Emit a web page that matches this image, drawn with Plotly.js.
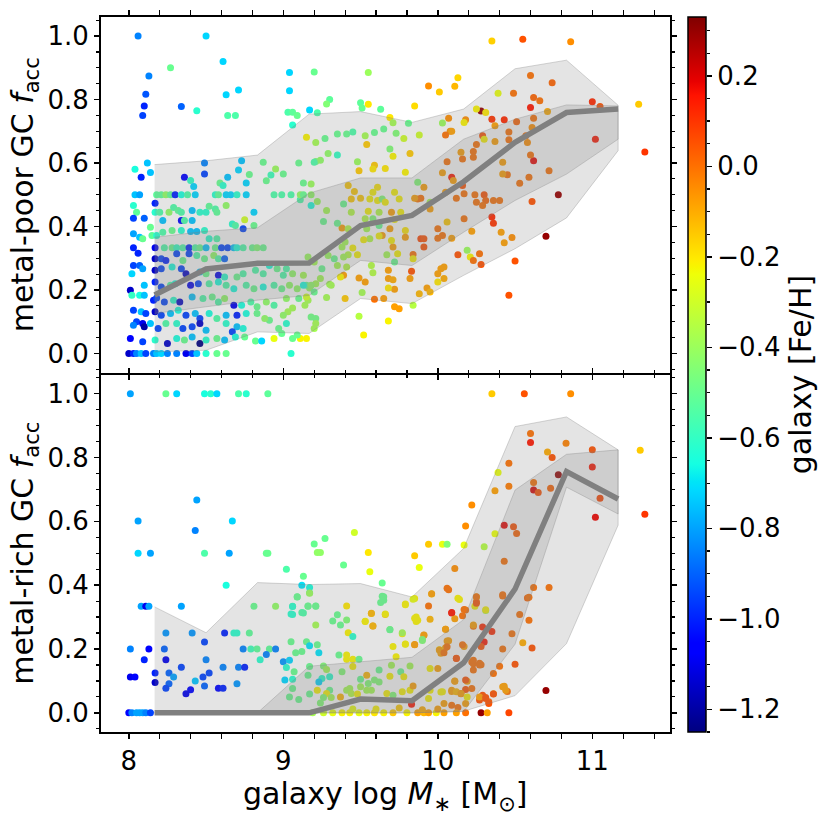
<!DOCTYPE html>
<html>
<head>
<meta charset="utf-8">
<script src="https://cdn.plot.ly/plotly-3.0.1.min.js"></script>
<style>body{margin:0;background:#fff}</style>
</head>
<body>
<div id="plot" style="width:831px;height:818px"></div>
<script>
// metal-poor GCs: galaxy log M*, accreted fraction, galaxy [Fe/H]
var poorLogM = [
  8.06,8.50,8.61,8.27,8.13,8.11,8.10,8.09,8.34,8.63,
  8.71,8.44,8.64,8.69,9.04,9.20,9.04,9.30,9.28,9.17,
  9.22,9.03,9.06,9.09,9.06,9.55,9.50,9.51,9.55,9.63,
  9.69,9.71,9.81,9.85,9.94,10.01,10.11,10.13,10.35,10.55,
  10.86,11.30,10.60,10.74,10.39,10.49,10.62,10.66,10.60,10.28,
  10.31,10.25,10.35,10.43,10.51,10.62,10.71,11.00,11.05,11.02,
  11.34,
  10.07,10.18,10.03,10.17,10.08,10.09,10.05,10.37,10.46,10.29,
  10.25,10.23,10.23,10.16,10.15,10.30,10.37,10.46,10.57,10.61,
  10.58,10.62,10.60,10.42,10.45,10.42,10.53,10.59,10.72,10.78,
  10.61,10.70,10.50,10.46,10.09,10.06,10.10,10.03,10.16,10.12,
  10.05,10.17,10.24,10.30,10.31,10.29,10.25,10.36,10.40,10.35,
  10.36,10.17,10.06,10.00,10.00,10.03,10.22,10.41,10.48,10.43,
  10.09,10.19,10.21,10.13,10.23,10.27,10.28,
  9.89,9.91,9.91,9.84,10.04,10.02,10.00,10.04,10.00,9.83,
  9.82,9.93,9.95,9.88,9.72,9.75,9.72,9.68,9.65,9.59,
  9.53,9.51,9.57,9.58,9.49,9.39,9.68,9.71,9.68,9.68,
  9.84,9.49,9.52,9.40,9.28,9.31,
  9.15,9.27,9.35,9.41,9.45,9.21,9.29,9.21,9.24,9.35,
  9.48,9.49,9.53,9.54,9.59,9.58,9.66,9.59,9.65,9.73,
  9.78,9.88,9.69,9.71,9.82,9.79,9.87,9.91,9.87,9.89,
  9.85,9.95,9.95,9.61,9.42,9.46,9.44,9.50,9.56,9.58,
  9.61,9.64,9.66,9.72,9.75,9.70,9.76,9.55,9.62,9.44,
  9.38,9.42,9.35,9.26,9.28,9.39,9.11,9.18,9.22,9.53,
  9.58,9.54,9.56,9.62,9.64,9.52,9.62,9.69,9.72,9.79,
  9.79,9.71,9.70,9.67,9.74,9.72,9.84,9.40,9.38,9.45,
  9.48,9.42,9.39,9.33,9.29,9.35,9.25,9.24,9.20,9.16,
  9.37,9.41,9.30,9.21,9.17,9.13,9.15,9.10,9.20,9.14,
  9.16,9.06,9.03,9.18,9.21,9.21,9.20,9.15,9.11,9.06,
  9.09,8.91,8.97,9.02,8.99,
  8.12,8.04,8.14,8.08,8.36,8.40,8.49,8.49,8.42,8.59,
  8.61,8.64,8.73,8.71,8.78,8.76,8.87,8.89,8.95,9.00,
  8.92,9.10,9.13,9.18,9.20,
  8.04,8.07,8.18,8.21,8.24,8.27,8.30,8.34,8.38,8.43,
  8.56,8.58,8.63,8.66,8.70,8.76,8.94,8.99,9.05,9.11,
  9.13,9.18,
  8.17,8.03,8.05,8.17,8.20,8.26,8.29,8.32,8.34,8.41,
  8.46,8.50,8.52,8.56,8.57,8.63,8.81,8.75,8.03,8.10,
  8.22,8.34,8.36,8.41,8.67,8.69,8.74,8.81,8.14,8.03,
  8.07,8.09,8.15,8.18,8.22,8.28,8.34,8.40,8.44,8.49,
  8.52,8.57,
  8.17,8.23,8.28,8.31,8.35,8.39,8.43,8.46,8.50,8.56,
  8.60,8.64,8.68,8.70,8.74,8.80,8.83,8.87,8.03,8.06,
  8.17,8.21,8.24,8.31,8.35,8.39,8.44,8.49,8.55,8.58,
  8.62,8.03,8.07,8.09,8.02,8.17,8.21,8.28,8.34,8.37,
  8.46,8.50,8.58,8.62,8.70,8.74,8.82,8.87,8.91,8.96,
  9.02,9.06,9.00,
  8.01,8.10,8.17,8.21,8.27,8.30,8.40,8.45,8.52,8.58,
  8.63,8.68,8.76,8.81,8.87,8.94,8.99,9.04,9.09,9.13,
  9.18,
  8.02,8.07,8.10,8.16,8.18,8.23,8.29,8.33,8.41,8.48,
  8.54,8.58,8.62,8.68,8.73,8.79,8.83,8.89,8.94,9.02,
  9.15,
  8.03,8.08,8.11,8.17,8.21,8.27,8.32,8.37,8.43,8.46,
  8.52,8.57,8.63,8.70,8.76,8.83,8.88,9.00,
  8.05,8.09,8.03,8.10,8.14,8.19,8.24,8.31,8.35,8.41,
  8.46,8.50,8.63,8.70,8.67,8.74,
  8.01,8.09,8.17,8.25,8.31,8.36,8.41,8.46,8.50,8.57,
  8.62,8.69,8.75,8.82,8.86,8.94,
  8.00,8.03,8.05,8.08,8.11,8.16,8.18,8.21,8.25,8.31,
  8.37,8.41,8.44,8.50,8.57,8.63,9.05
];
var poorFacc = [
  1.00,1.00,0.92,0.90,0.874,0.817,0.78,0.75,0.778,0.815,
  0.83,0.765,0.75,0.75,0.885,0.887,0.828,0.80,0.786,0.767,
  0.758,0.76,0.76,0.75,0.72,0.885,0.79,0.773,0.785,0.769,
  0.743,0.727,0.725,0.78,0.843,0.824,0.842,0.869,0.984,0.99,
  0.982,0.785,0.876,0.853,0.82,0.82,0.806,0.796,0.775,0.764,
  0.759,0.77,0.738,0.736,0.73,0.741,0.762,0.793,0.778,0.675,
  0.635,
  0.741,0.736,0.726,0.728,0.70,0.70,0.688,0.717,0.698,0.686,
  0.658,0.636,0.618,0.613,0.634,0.675,0.668,0.673,0.686,0.712,
  0.665,0.607,0.625,0.602,0.563,0.565,0.536,0.555,0.576,0.50,
  0.479,0.369,0.291,0.183,0.555,0.604,0.545,0.569,0.529,0.489,
  0.508,0.503,0.50,0.50,0.482,0.466,0.476,0.482,0.482,0.43,
  0.41,0.424,0.414,0.393,0.363,0.372,0.385,0.382,0.365,0.349,
  0.363,0.325,0.304,0.311,0.293,0.314,0.28,
  0.361,0.361,0.335,0.312,0.272,0.267,0.251,0.236,0.225,0.259,
  0.236,0.206,0.194,0.188,0.202,0.141,0.147,0.206,0.173,0.171,
  0.225,0.192,0.277,0.254,0.238,0.246,0.236,0.232,0.262,0.102,
  0.152,0.117,0.058,0.173,0.176,0.215,
  0.681,0.677,0.691,0.691,0.698,0.665,0.630,0.605,0.609,0.625,
  0.604,0.576,0.686,0.658,0.593,0.581,0.583,0.696,0.707,0.694,
  0.677,0.688,0.644,0.621,0.630,0.571,0.539,0.524,0.487,0.489,
  0.489,0.476,0.455,0.524,0.529,0.51,0.487,0.489,0.487,0.508,
  0.482,0.487,0.476,0.508,0.487,0.445,0.445,0.448,0.445,0.445,
  0.395,0.393,0.41,0.416,0.45,0.471,0.484,0.466,0.479,0.424,
  0.424,0.393,0.361,0.403,0.372,0.358,0.37,0.393,0.422,0.387,
  0.366,0.335,0.356,0.311,0.314,0.288,0.298,0.351,0.335,0.332,
  0.311,0.311,0.304,0.298,0.309,0.277,0.267,0.236,0.288,0.304,
  0.241,0.272,0.218,0.22,0.206,0.246,0.215,0.173,0.194,0.152,
  0.168,0.143,0.131,0.115,0.11,0.094,0.079,0.047,0.047,0.047,
  0.058,0.105,0.079,0.094,0.063,
  0.60,0.58,0.57,0.555,0.555,0.545,0.565,0.60,0.526,0.537,
  0.529,0.555,0.607,0.578,0.564,0.537,0.602,0.544,0.581,0.565,
  0.562,0.60,0.537,0.534,0.602,
  0.5,0.5,0.5,0.5,0.5,0.5,0.5,0.5,0.5,0.5,
  0.5,0.5,0.5,0.5,0.5,0.5,0.5,0.5,0.5,0.5,
  0.5,0.5,
  0.473,0.466,0.445,0.445,0.445,0.445,0.46,0.45,0.445,0.45,
  0.445,0.445,0.464,0.455,0.445,0.466,0.445,0.421,0.426,0.426,
  0.419,0.419,0.419,0.419,0.408,0.403,0.393,0.403,0.398,0.377,
  0.366,0.361,0.372,0.372,0.382,0.387,0.387,0.384,0.384,0.387,
  0.361,0.361,
  0.333,0.333,0.333,0.333,0.333,0.333,0.333,0.333,0.333,0.333,
  0.333,0.333,0.333,0.333,0.333,0.333,0.333,0.333,0.333,0.316,
  0.298,0.298,0.293,0.314,0.293,0.314,0.309,0.298,0.309,0.298,
  0.298,0.277,0.277,0.267,0.251,0.262,0.267,0.272,0.267,0.251,
  0.257,0.251,0.246,0.241,0.241,0.251,0.262,0.251,0.277,0.267,
  0.267,0.251,0.246,
  0.199,0.215,0.225,0.209,0.215,0.22,0.215,0.22,0.22,0.225,
  0.215,0.204,0.215,0.204,0.209,0.215,0.204,0.215,0.204,0.215,
  0.215,
  0.183,0.183,0.183,0.168,0.175,0.162,0.168,0.162,0.178,0.173,
  0.178,0.162,0.173,0.152,0.152,0.162,0.147,0.162,0.152,0.173,
  0.178,
  0.136,0.131,0.126,0.131,0.12,0.126,0.136,0.12,0.126,0.11,
  0.126,0.11,0.12,0.12,0.126,0.126,0.11,0.12,
  0.10,0.094,0.089,0.084,0.094,0.079,0.094,0.094,0.079,0.084,
  0.094,0.073,0.094,0.084,0.068,0.079,
  0.047,0.037,0.042,0.031,0.047,0.042,0.052,0.031,0.042,0.047,
  0.042,0.052,0.052,0.039,0.039,0.047,
  0,0,0,0,0,0,0,0,0,0,
  0,0,0,0,0,0,0
];
var poorFeH = [
  -0.85,-0.72,-0.72,-0.50,-0.85,-0.92,-1.00,-0.95,-0.90,-0.72,
  -0.72,-0.62,-0.55,-0.55,-0.72,-0.50,-0.72,-0.52,-0.45,-0.72,
  -0.55,-0.55,-0.52,-0.50,-0.62,-0.40,-0.52,-0.50,-0.20,-0.52,
  -0.20,-0.38,-0.50,-0.18,-0.05,-0.15,-0.12,-0.17,-0.16,0.05,
  -0.05,-0.15,0.00,0.02,-0.25,0.00,0.02,0.00,0.15,0.30,
  -0.20,-0.22,0.10,0.12,0.02,0.00,-0.10,0.12,0.05,0.15,
  0.10,
  -0.05,-0.05,-0.40,-0.22,-0.05,-0.08,0.00,-0.08,0.00,0.05,
  0.00,0.00,0.00,0.00,-0.08,-0.22,-0.08,0.00,0.00,-0.05,
  -0.05,0.18,0.00,-0.08,0.00,-0.08,0.00,0.00,0.00,0.30,
  0.05,0.30,0.05,0.05,0.15,0.00,-0.08,-0.08,0.05,0.00,
  -0.08,0.00,0.00,0.05,0.02,0.00,0.00,0.00,0.00,0.12,
  0.10,0.00,-0.15,0.00,0.00,0.00,-0.08,-0.08,-0.05,-0.08,
  -0.08,-0.40,-0.22,0.05,0.00,0.00,0.05,
  0.07,0.05,0.05,0.00,-0.08,-0.08,-0.08,-0.10,-0.20,0.05,
  -0.08,-0.08,-0.12,-0.12,-0.08,-0.08,-0.08,-0.20,-0.08,0.00,
  -0.08,-0.38,-0.35,-0.35,-0.08,-0.08,-0.08,-0.10,-0.08,-0.22,
  -0.35,-0.35,-0.22,-0.15,-0.38,-0.38,
  -0.22,-0.50,-0.50,-0.50,-0.55,-0.38,-0.42,-0.45,-0.42,-0.60,
  -0.40,-0.15,-0.38,-0.15,-0.15,-0.20,-0.20,-0.50,-0.50,-0.45,
  -0.30,-0.30,-0.45,-0.22,-0.15,-0.22,-0.45,-0.08,0.00,0.00,
  -0.08,-0.38,-0.08,-0.20,-0.15,-0.15,-0.15,-0.15,-0.22,-0.22,
  -0.22,-0.45,-0.22,-0.22,-0.22,-0.08,-0.22,-0.22,-0.35,-0.35,
  -0.08,-0.35,-0.50,-0.50,-0.38,-0.50,-0.55,-0.65,-0.40,-0.35,
  -0.45,-0.38,-0.35,-0.50,-0.08,-0.22,-0.22,-0.08,-0.22,-0.20,
  -0.08,-0.08,-0.22,-0.38,-0.22,-0.50,-0.22,-0.38,-0.38,-0.22,
  -0.22,-0.35,-0.38,-0.50,-0.40,-0.38,-0.50,-0.38,-0.38,-0.40,
  -0.22,-0.35,-0.38,-0.38,-0.40,-0.38,-0.50,-0.50,-0.50,-0.38,
  -0.38,-0.38,-0.38,-0.48,-0.48,-0.38,-0.38,-0.22,-0.22,-0.50,
  -0.50,-0.50,-0.50,-0.62,-0.50,
  -0.75,-0.65,-0.75,-1.00,-1.05,-0.60,-0.95,-0.85,-0.72,-0.50,
  -0.62,-0.75,-0.75,-0.72,-0.50,-0.72,-0.50,-0.50,-0.40,-0.50,
  -0.58,-0.50,-0.50,-0.40,-0.55,
  -0.75,-0.80,-0.52,-0.52,-0.42,-0.52,-1.00,-0.65,-0.55,-0.72,
  -0.62,-0.52,-0.72,-0.72,-0.62,-0.72,-0.55,-0.55,-0.55,-0.42,
  -0.50,-0.42,
  -1.00,-0.62,-0.52,-0.62,-0.55,-0.42,-0.55,-0.52,-0.55,-0.75,
  -0.62,-0.62,-0.52,-0.55,-0.52,-0.42,-0.72,-0.30,-0.95,-0.90,
  -0.75,-1.05,-0.55,-0.75,-0.62,-0.55,-0.95,-0.50,-0.50,-0.80,
  -0.75,-0.50,-0.52,-0.62,-0.55,-0.50,-0.62,-0.75,-0.75,-0.62,
  -0.62,-0.55,
  -1.10,-0.55,-0.50,-0.60,-0.55,-1.00,-0.55,-0.50,-0.75,-0.50,
  -0.95,-0.95,-0.75,-0.65,-0.55,-0.50,-0.45,-0.50,-1.00,-1.00,
  -1.15,-0.95,-1.00,-0.95,-0.50,-0.95,-0.55,-0.50,-0.42,-0.55,
  -0.90,-0.95,-0.90,-0.80,-0.72,-1.15,-0.95,-0.65,-0.95,-1.15,
  -0.75,-0.50,-1.10,-0.62,-0.50,-0.55,-0.55,-0.55,-0.65,-0.50,
  -0.55,-0.42,-0.55,
  -1.15,-0.75,-1.00,-0.95,-0.55,-0.65,-1.10,-0.95,-0.55,-0.65,
  -0.55,-0.65,-0.55,-0.50,-0.65,-0.55,-0.50,-0.42,-0.42,-0.65,
  -0.42,
  -0.60,-0.65,-0.75,-1.00,-0.95,-0.95,-0.62,-1.15,-0.75,-0.55,
  -0.50,-0.55,-0.42,-1.10,-0.65,-0.55,-0.50,-0.42,-0.55,-0.42,
  -0.30,
  -0.95,-0.75,-0.95,-1.15,-0.95,-0.75,-0.65,-0.95,-0.75,-0.95,
  -0.65,-0.55,-0.75,-1.00,-0.65,-0.50,-0.42,-0.42,
  -0.95,-1.10,-0.85,-1.20,-0.75,-0.95,-0.55,-0.62,-0.95,-0.95,
  -1.15,-0.75,-0.62,-0.75,-0.95,-0.65,
  -1.05,-0.95,-0.62,-1.15,-0.65,-0.50,-0.75,-1.25,-0.62,-0.50,
  -0.75,-0.65,-0.50,-0.50,-0.72,-0.25,
  -1.15,-1.00,-0.85,-0.75,-0.95,-0.85,-0.75,-0.72,-0.85,-0.85,
  -1.10,-0.95,-0.75,-0.62,-0.50,-0.50,-0.62
];

// metal-rich GCs
var richLogM = [
  8.01,8.24,8.31,8.49,8.53,8.57,8.71,8.76,8.90,10.35,10.56,10.86,
  11.31,10.60,10.60,10.83,10.71,10.74,11.00,11.00,11.05,11.02,
  11.34,10.46,10.39,10.37,10.46,10.78,10.62,10.62,10.65,10.73,
  10.22,10.18,10.43,10.49,10.51,10.37,9.94,10.03,10.06,10.17,
  10.30,10.43,10.11,9.85,9.88,10.62,10.72,10.42,10.58,10.53,
  10.59,10.48,10.55,10.61,10.40,10.50,10.43,10.45,10.70,10.46,
  10.28,10.32,
  10.06,10.07,10.14,9.96,10.25,10.25,10.24,10.31,10.09,10.17,
  10.11,10.05,10.23,10.29,10.35,10.30,10.28,10.17,10.06,10.05,
  10.02,10.01,10.12,10.22,10.23,10.28,10.36,10.19,10.11,10.18,
  10.15,10.09,10.02,10.29,10.31,10.33,10.36,10.27,
  9.85,9.79,9.86,9.87,9.91,9.90,9.85,9.79,9.77,9.71,
  9.69,9.64,9.65,9.64,9.57,9.58,9.53,9.66,9.55,9.56,
  9.46,9.39,9.20,9.27,9.22,9.24,9.13,9.02,9.12,9.17,
  9.17,9.09,9.06,9.16,9.21,9.06,9.13,8.81,8.95,8.63,
  8.89,8.90,8.49,8.65,8.06,8.14,8.06,8.67,8.44,8.43,
  8.08,8.11,8.13,8.34,8.24,8.41,8.62,8.68,8.70,8.78,
  8.49,8.01,8.13,8.23,8.74,8.79,8.83,8.91,8.95,8.10,
  8.24,8.50,8.85,8.89,8.34,8.61,8.71,8.75,8.01,8.04,
  8.17,8.26,8.29,8.52,8.48,8.43,8.17,8.26,8.24,8.49,
  8.58,8.61,8.70,8.40,8.37,8.00,8.02,8.05,8.07,8.09,
  8.11,8.14,
  9.09,9.17,9.06,9.16,9.21,9.05,9.12,9.41,9.35,9.32,
  9.37,9.41,9.21,9.65,9.63,9.57,9.53,9.58,9.66,9.69,
  9.42,9.45,9.79,9.84,9.85,9.86,9.77,9.79,9.85,9.96,
  9.94,10.13,10.25,10.09,10.18,10.16,9.95,9.91,9.90,10.05,
  10.07,10.06,10.01,10.04,10.16,10.12,9.73,9.05,9.15,9.22,
  9.17,9.23,9.08,9.12,9.00,9.04,9.02,9.07,9.17,9.26,
  9.28,9.36,9.41,9.41,9.45,9.49,9.45,9.38,9.62,9.54,
  9.70,9.76,9.78,9.82,9.69,9.95,10.00,10.11,10.18,10.23,
  10.27,10.23,9.01,9.06,9.06,9.16,9.25,9.23,9.30,9.30,
  9.50,9.55,9.59,9.62,9.50,9.54,9.57,9.41,9.43,9.44,
  9.37,9.48,9.28,9.26,9.31,9.22,9.17,9.04,9.10,9.24,
  9.67,9.71,9.82,9.77,9.84,9.83,9.95,9.94,10.03,10.09,
  10.12,10.15,10.04,10.09,10.13,10.18,10.19,10.22,10.27,10.31,
  10.33,10.36,10.42,10.44,
  9.19,9.26,9.32,9.38,9.43,9.49,9.54,9.59,9.65,9.71,
  9.80,9.87,9.91,9.94,9.99,10.04,10.12,10.18,9.60,9.75,
  9.90,10.00,9.45,10.42,10.59,10.42,10.23,10.27,10.25,10.31
];
var richFacc = [
  1.0,1.0,1.0,1.0,1.0,1.0,1.0,1.0,1.0,1.0,1.0,1.0,
  0.823,0.875,0.847,0.845,0.817,0.80,0.824,0.77,0.672,0.613,
  0.622,0.782,0.753,0.696,0.71,0.746,0.722,0.698,0.69,0.704,
  0.651,0.585,0.588,0.583,0.562,0.561,0.528,0.528,0.528,0.526,
  0.52,0.475,0.452,0.492,0.455,0.393,0.393,0.366,0.36,0.308,
  0.29,0.248,0.22,0.203,0.146,0.152,0.083,0.067,0.07,0.0,
  0.0,0.0,
  0.39,0.386,0.355,0.372,0.363,0.348,0.334,0.321,0.313,0.324,
  0.295,0.262,0.271,0.269,0.255,0.222,0.208,0.208,0.225,0.204,
  0.187,0.198,0.17,0.159,0.154,0.151,0.123,0.099,0.099,0.073,
  0.06,0.067,0.065,0.055,0.045,0.035,0.06,0.04,
  0.358,0.339,0.30,0.29,0.243,0.227,0.214,0.215,0.248,0.208,
  0.261,0.365,0.353,0.407,0.311,0.272,0.287,0.308,0.502,0.442,
  0.565,0.463,0.529,0.546,0.502,0.502,0.428,0.45,0.40,0.393,
  0.376,0.363,0.334,0.334,0.334,0.308,0.313,0.334,0.334,0.40,
  0.50,0.50,0.50,0.50,0.50,0.50,0.601,0.601,0.667,0.571,
  0.334,0.334,0.334,0.334,0.25,0.25,0.25,0.25,0.25,0.25,
  0.222,0.20,0.20,0.20,0.20,0.20,0.20,0.20,0.20,0.166,
  0.166,0.166,0.166,0.183,0.143,0.143,0.143,0.143,0.112,0.112,
  0.125,0.125,0.112,0.125,0.112,0.10,0.095,0.091,0.077,0.084,
  0.077,0.077,0.091,0.072,0.06,0,0,0,0,0,
  0,0,
  0.364,0.375,0.333,0.335,0.335,0.31,0.314,0.335,0.307,0.288,
  0.275,0.291,0.275,0.364,0.346,0.312,0.286,0.272,0.31,0.26,
  0.251,0.239,0.341,0.356,0.296,0.286,0.251,0.216,0.213,0.373,
  0.335,0.359,0.364,0.314,0.322,0.304,0.293,0.244,0.23,0.262,
  0.226,0.207,0.197,0.188,0.213,0.171,0.176,0.223,0.223,0.213,
  0.21,0.188,0.188,0.192,0.16,0.165,0.142,0.129,0.145,0.147,
  0.136,0.181,0.181,0.168,0.168,0.168,0.145,0.129,0.134,0.118,
  0.149,0.129,0.113,0.147,0.115,0.139,0.139,0.10,0.103,0.165,
  0.15,0.134,0.103,0.105,0.076,0.118,0.108,0.097,0.113,0.071,
  0.105,0.092,0.103,0.097,0.082,0.071,0.071,0.071,0.076,0.061,
  0.05,0.059,0.061,0.048,0.048,0.071,0.059,0.05,0.042,0.031,
  0.061,0.055,0.071,0.066,0.084,0.027,0.071,0.045,0.066,0.071,
  0.066,0.061,0.029,0.024,0.017,0.029,0.05,0.076,0.05,0.048,
  0.029,0.059,0.082,0.071,
  0,0,0,0,0,0,0,0,0,0,
  0,0,0,0,0,0,0,0,0.012,0.015,
  0.01,0.012,0.012,0.37,0.362,0.2,0.275,0.155,0.343,0.323
];
var richFeH = [
  -0.80,-0.50,-0.72,-0.65,-0.62,-0.72,-0.55,-0.62,-0.52,-0.15,0.05,-0.05,
  -0.15,0.00,0.15,-0.03,-0.10,0.05,0.05,0.15,0.07,0.18,
  0.10,0.00,-0.25,-0.08,-0.02,0.30,0.00,0.20,0.05,0.02,
  -0.05,-0.05,0.18,0.05,0.02,-0.25,-0.15,-0.25,-0.45,-0.25,
  -0.35,0.00,-0.05,-0.15,-0.25,0.00,0.00,0.00,0.02,0.00,
  0.00,0.00,-0.10,0.05,0.00,0.05,-0.08,0.00,0.30,0.07,
  0.30,-0.08,
  0.00,0.00,-0.22,-0.15,-0.15,0.00,-0.22,-0.35,0.15,0.00,
  -0.08,-0.08,0.00,0.12,0.12,0.15,0.05,-0.08,-0.08,-0.08,
  -0.08,-0.22,0.05,0.00,0.00,0.00,0.00,-0.08,-0.08,0.05,
  0.00,-0.08,-0.22,0.05,0.05,0.02,-0.05,0.05,
  -0.22,-0.22,-0.22,-0.22,-0.08,-0.45,-0.08,-0.22,-0.22,-0.22,
  -0.45,-0.50,-0.50,-0.50,-0.15,-0.08,-0.22,-0.15,-0.20,-0.25,
  -0.30,-0.50,-0.50,-0.50,-0.42,-0.42,-0.50,-0.55,-0.70,-0.65,
  -0.50,-0.50,-0.55,-0.50,-0.50,-0.62,-0.55,-0.50,-0.42,-0.65,
  -0.50,-0.50,-0.55,-0.80,-0.72,-0.80,-0.80,-0.72,-0.80,-0.85,
  -0.80,-1.10,-0.80,-0.80,-0.82,-0.82,-1.00,-0.62,-0.62,-0.52,
  -0.95,-0.85,-1.05,-0.90,-0.85,-0.58,-0.52,-0.52,-0.85,-1.00,
  -1.10,-0.85,-0.62,-0.85,-0.95,-0.85,-0.85,-1.00,-1.10,-1.05,
  -1.00,-0.90,-0.80,-0.95,-0.95,-0.75,-1.15,-0.90,-0.95,-0.90,
  -1.05,-1.00,-0.82,-1.05,-1.10,-1.05,-0.85,-0.80,-0.80,-0.80,
  -0.85,-0.95,
  -0.50,-0.40,-0.62,-0.50,-0.50,-0.62,-0.55,-0.20,-0.50,-0.50,
  -0.50,-0.45,-0.38,-0.50,-0.50,-0.12,-0.22,-0.12,-0.22,-0.50,
  -0.22,-0.62,-0.22,-0.25,-0.22,-0.22,-0.38,-0.22,-0.08,-0.08,
  0.00,-0.22,0.00,0.15,0.00,0.00,-0.12,-0.08,-0.45,-0.08,
  -0.08,0.00,-0.08,0.00,0.00,0.05,-0.22,-0.50,-0.50,-0.50,
  -0.70,-0.70,-0.50,-0.50,-0.82,-0.72,-0.62,-0.50,-0.50,-0.45,
  -0.38,-0.50,-0.22,-0.22,-0.22,-0.50,-0.22,-0.45,-0.50,-0.12,
  -0.38,-0.50,-0.22,-0.38,-0.22,-0.22,-0.08,-0.08,0.05,0.00,
  0.00,0.00,-0.72,-0.62,-0.50,-0.50,-0.62,-0.72,-0.62,-0.50,
  -0.50,-0.45,-0.45,-0.45,-0.38,-0.38,-0.38,-0.38,-0.38,-0.35,
  -0.12,-0.22,-0.22,-0.45,-0.38,-0.22,-0.50,-0.50,-0.50,-0.45,
  -0.22,-0.45,-0.22,-0.22,-0.08,0.15,-0.22,-0.22,-0.22,-0.08,
  -0.12,-0.08,-0.08,0.00,0.00,-0.08,-0.22,0.00,-0.08,0.05,
  0.05,0.05,-0.08,-0.08,
  -0.38,-0.30,-0.25,-0.22,-0.22,-0.25,-0.22,-0.20,-0.22,-0.15,
  -0.22,-0.08,-0.12,-0.08,-0.22,-0.08,-0.08,0.00,-0.22,-0.15,
  -0.10,-0.08,-0.25,0.00,0.00,0.00,-0.08,0.00,0.05,-0.22
];

// binned statistics (bin centres, median, 25/75 and 10/90 percentiles)
var binCentres = [8.167, 8.5, 8.833, 9.167, 9.5, 9.833, 10.167, 10.5, 10.833, 11.167];
var poorMedian = [0.184, 0.266, 0.284, 0.285, 0.403, 0.435, 0.541, 0.665, 0.759, 0.770];
var poorP25 = [0.126, 0.147, 0.168, 0.183, 0.293, 0.277, 0.382, 0.482, 0.565, 0.675];
var poorP75 = [0.366, 0.385, 0.396, 0.505, 0.553, 0.553, 0.675, 0.738, 0.783, 0.780];
var poorP10 = [0.005, 0.010, 0.068, 0.063, 0.173, 0.157, 0.246, 0.330, 0.427, 0.639];
var poorP90 = [0.595, 0.607, 0.625, 0.754, 0.762, 0.728, 0.770, 0.897, 0.924, 0.782];
var richMedian = [0, 0, 0, 0, 0.043, 0.038, 0.157, 0.388, 0.756, 0.670];
var richP25 = [0, 0, 0, 0, 0, 0, 0.004, 0.215, 0.707, 0.623];
var richP75 = [0, 0, 0, 0.146, 0.159, 0.174, 0.292, 0.698, 0.810, 0.824];
var richP10 = [0, 0, 0, 0, 0, 0, 0.005, 0.054, 0.217, 0.588];
var richP90 = [0.332, 0.251, 0.408, 0.402, 0.405, 0.363, 0.515, 0.897, 0.927, 0.824];

var fehMin = -1.25, fehMax = 0.33;

// matplotlib "jet"
var jet = [
  [0, 'rgb(0,0,128)'], [0.11, 'rgb(0,0,255)'], [0.125, 'rgb(0,0,255)'],
  [0.34, 'rgb(0,219,255)'], [0.35, 'rgb(0,229,247)'], [0.375, 'rgb(21,255,226)'],
  [0.64, 'rgb(239,255,8)'], [0.65, 'rgb(247,246,0)'], [0.66, 'rgb(255,236,0)'],
  [0.89, 'rgb(255,19,0)'], [0.91, 'rgb(232,0,0)'], [1, 'rgb(128,0,0)']
];

function points(x, y, c, xa, ya) {
  return {type: 'scatter', mode: 'markers', x: x, y: y, xaxis: xa, yaxis: ya,
    marker: {color: c, coloraxis: 'coloraxis', size: 7, line: {width: 0}},
    hoverinfo: 'skip', showlegend: false};
}
function band(lo, hi, xa, ya) {
  return {type: 'scatter', mode: 'lines', xaxis: xa, yaxis: ya,
    x: binCentres.concat(binCentres.slice().reverse()),
    y: hi.concat(lo.slice().reverse()),
    fill: 'toself', fillcolor: 'rgba(128,128,128,0.21)',
    line: {color: 'rgba(128,128,128,0.32)', width: 1},
    hoverinfo: 'skip', showlegend: false};
}
function median(y, xa, ya) {
  return {type: 'scatter', mode: 'lines', x: binCentres, y: y, xaxis: xa, yaxis: ya,
    line: {color: '#808080', width: 5.5}, hoverinfo: 'skip', showlegend: false};
}

var traces = [
  points(poorLogM, poorFacc, poorFeH, 'x2', 'y2'),
  band(poorP10, poorP90, 'x2', 'y2'),
  band(poorP25, poorP75, 'x2', 'y2'),
  median(poorMedian, 'x2', 'y2'),
  points(richLogM, richFacc, richFeH, 'x', 'y'),
  band(richP10, richP90, 'x', 'y'),
  band(richP25, richP75, 'x', 'y'),
  median(richMedian, 'x', 'y'),
  {type: 'scatter', x: [], y: [], xaxis: 'x', yaxis: 'y3', showlegend: false, hoverinfo: 'skip'}
];

var tickFont = {family: 'DejaVu Sans', size: 26, color: '#000'};
var titleFont = {family: 'DejaVu Sans', size: 30, color: '#000'};
var common = {
  showline: true, linecolor: '#000', linewidth: 2, mirror: 'allticks',
  ticks: 'outside', ticklen: 5, tickwidth: 1.5, tickcolor: '#000',
  showgrid: false, zeroline: false, tickfont: tickFont
};
var xEnd = 0.824;
var split = 0.5, gap = 2 / 715; // so the two panel frames share one line

var layout = {
  width: 831, height: 818,
  margin: {l: 101, r: 40, t: 17, b: 86},
  paper_bgcolor: '#fff', plot_bgcolor: 'rgba(0,0,0,0)',
  font: {family: 'DejaVu Sans', color: '#000'},
  showlegend: false,
  xaxis: Object.assign({}, common, {
    domain: [0, xEnd], anchor: 'y', range: [7.82, 11.50], tick0: 0, dtick: 1,
    minor: {dtick: 0.2, ticks: 'outside', ticklen: 3, tickwidth: 1.2, tickcolor: '#000'},
    title: {text: 'galaxy log <i>M</i><sub>∗</sub> [M<sub>⊙</sub>]', font: titleFont, standoff: 0}
  }),
  xaxis2: Object.assign({}, common, {
    domain: [0, xEnd], anchor: 'y2', matches: 'x', range: [7.82, 11.50], tick0: 0, dtick: 1,
    showticklabels: false,
    minor: {dtick: 0.2, ticks: 'outside', ticklen: 3, tickwidth: 1.2, tickcolor: '#000'}
  }),
  yaxis: Object.assign({}, common, {
    domain: [0, split], anchor: 'x', range: [-0.06, 1.06], tick0: 0, dtick: 0.2, tickformat: '.1f',
    minor: {dtick: 0.05, ticks: 'outside', ticklen: 3, tickwidth: 1.2, tickcolor: '#000'},
    title: {text: 'metal-rich GC <i>f</i><sub>acc</sub>', font: titleFont, standoff: 5}
  }),
  yaxis2: Object.assign({}, common, {
    domain: [split + gap, 1], anchor: 'x2', range: [-0.06, 1.06], tick0: 0, dtick: 0.2, tickformat: '.1f',
    minor: {dtick: 0.05, ticks: 'outside', ticklen: 3, tickwidth: 1.2, tickcolor: '#000'},
    title: {text: 'metal-poor GC <i>f</i><sub>acc</sub>', font: titleFont, standoff: 5}
  }),
  // ticks and labels of the colour bar
  yaxis3: {
    domain: [0, 1], anchor: 'free', position: 0.877, side: 'right',
    range: [fehMin, fehMax], tick0: 0, dtick: 0.2, tickformat: '.1f',
    showline: false, showgrid: false, zeroline: false,
    ticks: 'outside', ticklen: 5, tickwidth: 1.5, tickcolor: '#000', tickfont: tickFont,
    minor: {dtick: 0.05, ticks: 'outside', ticklen: 3, tickwidth: 1.2, tickcolor: '#000'},
    title: {text: 'galaxy [Fe/H]', font: titleFont, standoff: 10}
  },
  coloraxis: {
    cmin: fehMin, cmax: fehMax, colorscale: jet,
    colorbar: {
      x: 0.8507, xanchor: 'left', xpad: 0, y: 0.5, yanchor: 'middle', ypad: 0,
      len: 1, lenmode: 'fraction', thickness: 18, thicknessmode: 'pixels',
      outlinewidth: 1.5, outlinecolor: '#000', ticks: '', showticklabels: false
    }
  }
};

Plotly.newPlot('plot', traces, layout, {staticPlot: true});
</script>
</body>
</html>
